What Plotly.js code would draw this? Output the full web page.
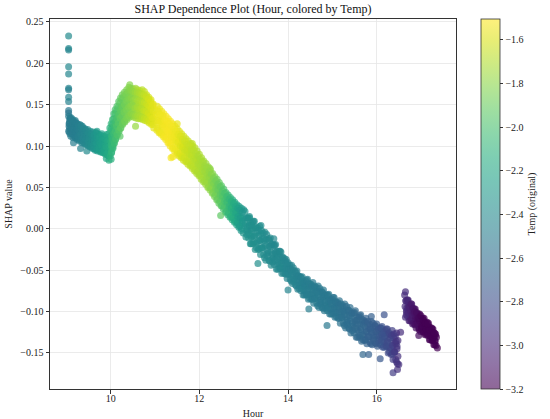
<!DOCTYPE html>
<html>
<head>
<meta charset="utf-8">
<script src="https://cdn.plot.ly/plotly-3.0.1.min.js"></script>
<style>html,body{margin:0;padding:0;background:#fff;}#chart{width:550px;height:419px;}</style>
</head>
<body>
<div id="chart"></div>
<script>
// ---- Data ----
// Early vertical column of high SHAP values at the first hour
const hourEarly = [9.05,9.05,9.05,9.05,9.05,9.05,9.05,9.05,9.05,9.05,9.05];
const shapEarly = [0.233,0.218,0.216,0.196,0.187,0.170,0.168,0.159,0.154,0.143,0.140];
const tempEarly = [-2.40,-2.42,-2.44,-2.41,-2.43,-2.45,-2.47,-2.44,-2.46,-2.52,-2.54];

// Morning band (9:00 - 10:00)
const hourMorning = [
9.05,9.06,9.07,9.05, 9.08,9.10,9.07,9.09, 9.10,9.12,9.11,9.13,9.09, 9.15,9.17,9.14,9.16,
9.19,9.21,9.18,9.20, 9.24,9.26,9.23,9.25, 9.29,9.31,9.28,9.30, 9.35,9.37,9.34,9.36,
9.41,9.43,9.40,9.42, 9.47,9.49,9.46,9.48, 9.53,9.55,9.52,9.54, 9.59,9.61,9.58,9.60,
9.65,9.67,9.64,9.66, 9.70,9.72,9.71,9.73,9.69, 9.77,9.79,9.76,9.78, 9.83,9.85,9.82,9.84,
9.88,9.90,9.87,9.89, 9.93,9.95,9.92,9.94, 9.96,9.98,9.97,9.99,9.95,
9.32,9.46,9.90,9.96,9.16];
const shapMorning = [
0.118,0.124,0.130,0.136, 0.115,0.121,0.127,0.133, 0.112,0.119,0.125,0.131,0.135, 0.110,0.116,0.123,0.129,
0.111,0.118,0.124,0.131, 0.108,0.115,0.121,0.127, 0.106,0.113,0.120,0.126, 0.104,0.111,0.118,0.124,
0.103,0.109,0.116,0.121, 0.101,0.107,0.113,0.120, 0.099,0.105,0.112,0.118, 0.097,0.104,0.110,0.117,
0.095,0.102,0.108,0.116, 0.094,0.100,0.107,0.114,0.118, 0.093,0.099,0.106,0.113, 0.092,0.098,0.105,0.112,
0.090,0.097,0.104,0.111, 0.089,0.096,0.103,0.110, 0.088,0.095,0.102,0.110,0.115,
0.097,0.094,0.085,0.083,0.104];
const tempMorning = [
-2.50,-2.50,-2.50,-2.50, -2.50,-2.50,-2.50,-2.50, -2.49,-2.49,-2.49,-2.49,-2.49, -2.49,-2.49,-2.49,-2.49,
-2.48,-2.48,-2.48,-2.48, -2.47,-2.47,-2.47,-2.47, -2.46,-2.46,-2.46,-2.46, -2.44,-2.44,-2.44,-2.44,
-2.42,-2.42,-2.42,-2.42, -2.40,-2.40,-2.40,-2.40, -2.37,-2.37,-2.37,-2.37, -2.34,-2.34,-2.34,-2.34,
-2.31,-2.31,-2.31,-2.31, -2.28,-2.28,-2.28,-2.28,-2.28, -2.26,-2.26,-2.26,-2.26, -2.23,-2.23,-2.23,-2.23,
-2.20,-2.20,-2.20,-2.20, -2.18,-2.18,-2.18,-2.18, -2.15,-2.15,-2.15,-2.15,-2.15,
-2.45,-2.40,-2.19,-2.16,-2.49];
const hourMorningFill = [
9.07,9.06,9.08,9.07, 9.13,9.12,9.14,9.13, 9.18,9.17,9.19,9.18, 9.22,9.21,9.23,9.22,
9.27,9.26,9.28,9.27, 9.33,9.32,9.34,9.33, 9.38,9.37,9.39,9.38, 9.44,9.43,9.45,9.44,
9.50,9.49,9.51,9.50, 9.56,9.55,9.57,9.56, 9.62,9.61,9.63,9.62, 9.68,9.67,9.69,9.68,
9.74,9.73,9.75,9.74, 9.80,9.79,9.81,9.80, 9.86,9.85,9.87,9.86, 9.91,9.90,9.92,9.91,
9.95,9.94,9.96,9.95];
const shapMorningFill = [
0.121,0.127,0.133,0.117, 0.115,0.122,0.128,0.133, 0.113,0.121,0.127,0.130, 0.110,0.117,0.122,0.128,
0.109,0.112,0.119,0.125, 0.107,0.114,0.121,0.125, 0.105,0.110,0.116,0.122, 0.102,0.108,0.114,0.119,
0.101,0.106,0.110,0.116, 0.099,0.103,0.109,0.115, 0.097,0.101,0.107,0.113, 0.096,0.103,0.110,0.116,
0.095,0.098,0.104,0.111, 0.093,0.101,0.108,0.115, 0.092,0.095,0.102,0.109, 0.091,0.099,0.106,0.114,
0.089,0.093,0.100,0.107];
const tempMorningFill = [
-2.50,-2.50,-2.50,-2.50, -2.49,-2.49,-2.49,-2.49, -2.48,-2.48,-2.48,-2.48, -2.48,-2.48,-2.48,-2.48,
-2.47,-2.47,-2.47,-2.47, -2.45,-2.45,-2.45,-2.45, -2.43,-2.43,-2.43,-2.43, -2.41,-2.41,-2.41,-2.41,
-2.39,-2.39,-2.39,-2.39, -2.36,-2.36,-2.36,-2.36, -2.33,-2.33,-2.33,-2.33, -2.30,-2.30,-2.30,-2.30,
-2.27,-2.27,-2.27,-2.27, -2.25,-2.25,-2.25,-2.25, -2.22,-2.22,-2.22,-2.22, -2.19,-2.19,-2.19,-2.19,
-2.17,-2.17,-2.17,-2.17];

// Rise and peak (10:00 - 11:00)
const hourRise = [
9.99,10.01,10.00,10.02,9.98, 10.02,10.04,10.03,10.05,10.01, 10.05,10.07,10.06,10.08,10.04,
10.08,10.10,10.09,10.11,10.07, 10.11,10.13,10.12,10.14,10.10, 10.15,10.17,10.16,10.18,10.14,
10.19,10.21,10.20,10.22,10.18, 10.23,10.25,10.24,10.26,10.22, 10.27,10.29,10.28,10.30,10.26,
10.32,10.34,10.33,10.35,10.31, 10.37,10.39,10.38,10.40,10.36, 10.42,10.44,10.43,10.45,10.41,
10.47,10.49,10.48,10.50,10.46, 10.52,10.54,10.53,10.55,10.51, 10.57,10.59,10.58,10.60,10.56,
10.62,10.64,10.63,10.65,10.61, 10.67,10.69,10.68,10.70,10.66, 10.72,10.74,10.73,10.75,10.71,
10.77,10.79,10.78,10.80,10.76, 10.82,10.84,10.83,10.85,10.81, 10.87,10.89,10.88,10.90,10.86,
10.92,10.94,10.93,10.95,10.91, 10.97,10.99,10.98,11.00,10.96,
10.56,10.21,10.01,10.43];
const shapRise = [
0.088,0.097,0.106,0.114,0.122, 0.092,0.101,0.110,0.119,0.127, 0.097,0.106,0.115,0.124,0.132,
0.104,0.112,0.121,0.130,0.139, 0.108,0.117,0.126,0.135,0.144, 0.113,0.121,0.130,0.139,0.148,
0.118,0.127,0.136,0.146,0.154, 0.122,0.131,0.140,0.149,0.158, 0.126,0.134,0.143,0.153,0.162,
0.129,0.138,0.147,0.157,0.165, 0.132,0.141,0.150,0.160,0.168, 0.135,0.143,0.152,0.162,0.171,
0.136,0.144,0.153,0.162,0.170, 0.135,0.143,0.152,0.161,0.169, 0.134,0.142,0.151,0.160,0.170,
0.133,0.142,0.150,0.159,0.168, 0.133,0.141,0.150,0.158,0.167, 0.132,0.140,0.149,0.158,0.168,
0.131,0.139,0.148,0.157,0.166, 0.130,0.138,0.146,0.154,0.162, 0.128,0.136,0.143,0.151,0.159,
0.126,0.133,0.140,0.148,0.156, 0.122,0.130,0.137,0.144,0.151,
0.124,0.112,0.084,0.174];
const tempRise = [
-2.12,-2.12,-2.12,-2.12,-2.12, -2.09,-2.09,-2.09,-2.09,-2.09, -2.06,-2.06,-2.06,-2.06,-2.06,
-2.03,-2.03,-2.03,-2.03,-2.03, -2.00,-2.00,-2.00,-2.00,-2.00, -1.97,-1.97,-1.97,-1.97,-1.97,
-1.94,-1.94,-1.94,-1.94,-1.94, -1.91,-1.91,-1.91,-1.91,-1.91, -1.88,-1.88,-1.88,-1.88,-1.88,
-1.86,-1.86,-1.86,-1.86,-1.86, -1.84,-1.84,-1.84,-1.84,-1.84, -1.82,-1.82,-1.82,-1.82,-1.82,
-1.80,-1.80,-1.80,-1.80,-1.80, -1.78,-1.78,-1.78,-1.78,-1.78, -1.75,-1.75,-1.75,-1.75,-1.75,
-1.72,-1.72,-1.72,-1.72,-1.72, -1.70,-1.70,-1.70,-1.70,-1.70, -1.68,-1.68,-1.68,-1.68,-1.68,
-1.65,-1.65,-1.65,-1.65,-1.65, -1.63,-1.63,-1.63,-1.63,-1.63, -1.61,-1.61,-1.61,-1.61,-1.61,
-1.59,-1.59,-1.59,-1.59,-1.59, -1.57,-1.57,-1.57,-1.57,-1.57,
-1.77,-1.94,-2.11,-1.82];
const hourRiseFill = [
10.02,10.01,10.02,10.01, 10.05,10.04,10.05,10.04, 10.08,10.07,10.08,10.07, 10.11,10.10,10.11,10.10,
10.14,10.13,10.14,10.13, 10.18,10.17,10.18,10.17, 10.22,10.21,10.22,10.21, 10.26,10.25,10.26,10.25,
10.31,10.30,10.31,10.30, 10.36,10.35,10.36,10.35, 10.41,10.40,10.41,10.40, 10.46,10.45,10.46,10.45,
10.51,10.50,10.51,10.50, 10.56,10.55,10.56,10.55, 10.61,10.60,10.61,10.60, 10.66,10.65,10.66,10.65,
10.71,10.70,10.71,10.70, 10.76,10.75,10.76,10.75, 10.81,10.80,10.81,10.80, 10.86,10.85,10.86,10.85,
10.91,10.90,10.91,10.90, 10.96,10.95,10.96,10.95];
const shapRiseFill = [
0.093,0.101,0.112,0.120, 0.099,0.107,0.118,0.126, 0.103,0.115,0.125,0.133, 0.109,0.118,0.128,0.139,
0.114,0.124,0.133,0.142, 0.119,0.128,0.138,0.147, 0.122,0.134,0.143,0.152, 0.127,0.136,0.147,0.157,
0.130,0.141,0.150,0.160, 0.134,0.144,0.155,0.163, 0.137,0.147,0.157,0.166, 0.139,0.148,0.158,0.167,
0.138,0.149,0.156,0.166, 0.137,0.146,0.157,0.165, 0.137,0.147,0.155,0.165, 0.136,0.145,0.155,0.164,
0.135,0.146,0.153,0.163, 0.134,0.143,0.153,0.162, 0.133,0.142,0.151,0.160, 0.131,0.140,0.149,0.157,
0.129,0.137,0.146,0.154, 0.126,0.134,0.142,0.150];
const tempRiseFill = [
-2.10,-2.10,-2.10,-2.10, -2.07,-2.07,-2.07,-2.07, -2.04,-2.04,-2.04,-2.04, -2.01,-2.01,-2.01,-2.01,
-1.98,-1.98,-1.98,-1.98, -1.95,-1.95,-1.95,-1.95, -1.92,-1.92,-1.92,-1.92, -1.90,-1.90,-1.90,-1.90,
-1.87,-1.87,-1.87,-1.87, -1.85,-1.85,-1.85,-1.85, -1.83,-1.83,-1.83,-1.83, -1.81,-1.81,-1.81,-1.81,
-1.79,-1.79,-1.79,-1.79, -1.76,-1.76,-1.76,-1.76, -1.73,-1.73,-1.73,-1.73, -1.71,-1.71,-1.71,-1.71,
-1.69,-1.69,-1.69,-1.69, -1.66,-1.66,-1.66,-1.66, -1.64,-1.64,-1.64,-1.64, -1.62,-1.62,-1.62,-1.62,
-1.60,-1.60,-1.60,-1.60, -1.58,-1.58,-1.58,-1.58];

// Midday decline (11:00 - 13:00)
const hourDecline = [
11.04,11.06,11.03,11.05, 11.09,11.11,11.08,11.10, 11.14,11.16,11.13,11.15, 11.19,11.21,11.18,11.20,
11.24,11.26,11.23,11.25, 11.29,11.31,11.28,11.30, 11.34,11.36,11.33,11.35, 11.39,11.41,11.38,11.40,
11.44,11.46,11.43,11.45, 11.49,11.51,11.48,11.50, 11.54,11.56,11.53,11.55, 11.59,11.61,11.58,11.60,
11.64,11.66,11.63,11.65, 11.69,11.71,11.68,11.70, 11.74,11.76,11.73,11.75, 11.79,11.81,11.78,11.80,
11.84,11.86,11.83,11.85, 11.89,11.91,11.88,11.90, 11.94,11.96,11.93,11.95, 11.99,12.01,11.98,12.00,
12.04,12.06,12.03,12.05, 12.09,12.11,12.08,12.10, 12.14,12.16,12.13,12.15, 12.19,12.21,12.18,12.20,
12.24,12.26,12.23,12.25, 12.29,12.31,12.28,12.30, 12.34,12.36,12.33,12.35, 12.39,12.41,12.38,12.40,
12.44,12.46,12.43,12.45, 12.49,12.51,12.48,12.50, 12.54,12.56,12.53,12.55, 12.59,12.61,12.58,12.60,
12.64,12.66,12.63,12.65, 12.69,12.71,12.68,12.70, 12.74,12.76,12.73,12.75, 12.79,12.81,12.78,12.80,
12.84,12.86,12.83,12.85, 12.89,12.91,12.88,12.90, 12.94,12.96,12.93,12.95, 12.99,13.01,12.98,13.00,
11.36,11.40,11.50,11.84,12.24,12.48];
const shapDecline = [
0.119,0.128,0.138,0.148, 0.116,0.125,0.135,0.145, 0.114,0.123,0.132,0.142, 0.111,0.120,0.129,0.139,
0.108,0.117,0.126,0.136, 0.104,0.114,0.123,0.133, 0.100,0.110,0.120,0.130, 0.097,0.107,0.117,0.127,
0.094,0.104,0.114,0.124, 0.090,0.100,0.111,0.121, 0.088,0.098,0.108,0.118, 0.086,0.095,0.105,0.115,
0.083,0.092,0.102,0.112, 0.081,0.090,0.099,0.109, 0.078,0.087,0.096,0.106, 0.076,0.085,0.094,0.103,
0.073,0.082,0.091,0.100, 0.070,0.079,0.088,0.098, 0.067,0.076,0.085,0.094, 0.064,0.073,0.082,0.090,
0.060,0.069,0.078,0.086, 0.057,0.065,0.074,0.082, 0.054,0.062,0.070,0.079, 0.050,0.058,0.067,0.075,
0.047,0.055,0.063,0.071, 0.043,0.051,0.059,0.067, 0.039,0.047,0.055,0.063, 0.035,0.043,0.052,0.060,
0.031,0.040,0.048,0.056, 0.028,0.036,0.044,0.052, 0.024,0.032,0.040,0.048, 0.020,0.028,0.036,0.044,
0.017,0.025,0.033,0.041, 0.014,0.022,0.030,0.038, 0.011,0.019,0.027,0.035, 0.008,0.016,0.024,0.032,
0.005,0.013,0.021,0.029, 0.002,0.010,0.018,0.027, -0.002,0.007,0.015,0.025, -0.005,0.004,0.013,0.023,
0.086,0.087,0.127,0.103,0.073,0.016];
const tempDecline = [
-1.56,-1.56,-1.56,-1.56, -1.55,-1.55,-1.55,-1.55, -1.54,-1.54,-1.54,-1.54, -1.53,-1.53,-1.53,-1.53,
-1.52,-1.52,-1.52,-1.52, -1.52,-1.52,-1.52,-1.52, -1.52,-1.52,-1.52,-1.52, -1.53,-1.53,-1.53,-1.53,
-1.54,-1.54,-1.54,-1.54, -1.56,-1.56,-1.56,-1.56, -1.58,-1.58,-1.58,-1.58, -1.60,-1.60,-1.60,-1.60,
-1.62,-1.62,-1.62,-1.62, -1.63,-1.63,-1.63,-1.63, -1.64,-1.64,-1.64,-1.64, -1.66,-1.66,-1.66,-1.66,
-1.67,-1.67,-1.67,-1.67, -1.68,-1.68,-1.68,-1.68, -1.70,-1.70,-1.70,-1.70, -1.71,-1.71,-1.71,-1.71,
-1.72,-1.72,-1.72,-1.72, -1.74,-1.74,-1.74,-1.74, -1.75,-1.75,-1.75,-1.75, -1.77,-1.77,-1.77,-1.77,
-1.79,-1.79,-1.79,-1.79, -1.82,-1.82,-1.82,-1.82, -1.85,-1.85,-1.85,-1.85, -1.88,-1.88,-1.88,-1.88,
-1.91,-1.91,-1.91,-1.91, -1.94,-1.94,-1.94,-1.94, -1.98,-1.98,-1.98,-1.98, -2.02,-2.02,-2.02,-2.02,
-2.06,-2.06,-2.06,-2.06, -2.10,-2.10,-2.10,-2.10, -2.14,-2.14,-2.14,-2.14, -2.18,-2.18,-2.18,-2.18,
-2.22,-2.22,-2.22,-2.22, -2.26,-2.26,-2.26,-2.26, -2.29,-2.29,-2.29,-2.29, -2.32,-2.32,-2.32,-2.32,
-1.52,-1.53,-1.56,-1.67,-1.79,-1.93];
const hourDeclineFill = [
11.06,11.07,11.07, 11.11,11.12,11.12, 11.16,11.17,11.17, 11.21,11.22,11.22, 11.26,11.27,11.27,
11.31,11.32,11.32, 11.36,11.37,11.37, 11.41,11.42,11.42, 11.46,11.47,11.47, 11.51,11.52,11.52,
11.56,11.57,11.57, 11.61,11.62,11.62, 11.66,11.67,11.67, 11.71,11.72,11.72, 11.76,11.77,11.77,
11.81,11.82,11.82, 11.86,11.87,11.87, 11.91,11.92,11.92, 11.96,11.97,11.97, 12.01,12.02,12.02,
12.06,12.07,12.07, 12.11,12.12,12.12, 12.16,12.17,12.17, 12.21,12.22,12.22, 12.26,12.27,12.27,
12.31,12.32,12.32, 12.36,12.37,12.37, 12.41,12.42,12.42, 12.46,12.47,12.47, 12.51,12.52,12.52,
12.56,12.57,12.57, 12.61,12.62,12.62, 12.66,12.67,12.67, 12.71,12.72,12.72, 12.76,12.77,12.77,
12.81,12.82,12.82, 12.86,12.87,12.87, 12.91,12.92,12.92, 12.96,12.97,12.97];
const shapDeclineFill = [
0.121,0.131,0.142, 0.117,0.130,0.138, 0.116,0.126,0.137, 0.112,0.124,0.131, 0.110,0.119,0.130,
0.105,0.118,0.127, 0.103,0.112,0.124, 0.098,0.111,0.120, 0.096,0.106,0.118, 0.092,0.105,0.114,
0.091,0.100,0.112, 0.087,0.099,0.108, 0.086,0.095,0.106, 0.082,0.094,0.102, 0.081,0.090,0.100,
0.077,0.089,0.096, 0.075,0.084,0.095, 0.071,0.083,0.091, 0.069,0.078,0.088, 0.065,0.076,0.084,
0.062,0.071,0.081, 0.058,0.069,0.076, 0.056,0.064,0.074, 0.051,0.062,0.069, 0.049,0.057,0.066,
0.044,0.055,0.061, 0.041,0.049,0.058, 0.036,0.047,0.054, 0.033,0.041,0.051, 0.028,0.039,0.046,
0.026,0.034,0.043, 0.021,0.032,0.039, 0.019,0.027,0.036, 0.015,0.025,0.033, 0.013,0.021,0.031,
0.009,0.019,0.027, 0.007,0.015,0.025, 0.003,0.013,0.022, 0.000,0.009,0.020];
const tempDeclineFill = [
-1.56,-1.56,-1.56, -1.55,-1.55,-1.55, -1.54,-1.54,-1.54, -1.53,-1.53,-1.53, -1.52,-1.52,-1.52,
-1.52,-1.52,-1.52, -1.53,-1.53,-1.53, -1.54,-1.54,-1.54, -1.55,-1.55,-1.55, -1.57,-1.57,-1.57,
-1.59,-1.59,-1.59, -1.61,-1.61,-1.61, -1.63,-1.63,-1.63, -1.64,-1.64,-1.64, -1.65,-1.65,-1.65,
-1.67,-1.67,-1.67, -1.68,-1.68,-1.68, -1.69,-1.69,-1.69, -1.71,-1.71,-1.71, -1.72,-1.72,-1.72,
-1.73,-1.73,-1.73, -1.75,-1.75,-1.75, -1.76,-1.76,-1.76, -1.78,-1.78,-1.78, -1.81,-1.81,-1.81,
-1.84,-1.84,-1.84, -1.87,-1.87,-1.87, -1.90,-1.90,-1.90, -1.93,-1.93,-1.93, -1.96,-1.96,-1.96,
-2.00,-2.00,-2.00, -2.04,-2.04,-2.04, -2.08,-2.08,-2.08, -2.12,-2.12,-2.12, -2.16,-2.16,-2.16,
-2.20,-2.20,-2.20, -2.24,-2.24,-2.24, -2.28,-2.28,-2.28, -2.31,-2.31,-2.31];

// Afternoon band (13:00 - 16:30)
const hourAfternoon = [
13.05,13.07,13.04,13.06,13.03, 13.11,13.09,13.12,13.10, 13.15,13.17,13.14,13.16,13.13, 13.21,13.19,13.22,13.20,
13.26,13.28,13.25,13.27,13.24, 13.33,13.31,13.34,13.32, 13.38,13.40,13.37,13.39,13.36, 13.45,13.43,13.46,13.44,
13.50,13.52,13.49,13.51,13.48, 13.57,13.55,13.58,13.56, 13.62,13.64,13.61,13.63,13.60, 13.69,13.67,13.70,13.68,
13.74,13.76,13.73,13.75,13.72, 13.81,13.79,13.82,13.80, 13.86,13.88,13.85,13.87,13.84, 13.93,13.91,13.94,13.92,
13.98,14.00,13.97,13.99,13.96, 14.05,14.03,14.06,14.04, 14.10,14.12,14.09,14.11,14.08, 14.17,14.15,14.18,14.16,
14.22,14.24,14.21,14.23,14.20, 14.29,14.27,14.30,14.28, 14.34,14.36,14.33,14.35,14.32, 14.41,14.39,14.42,14.40,
14.46,14.48,14.45,14.47,14.44, 14.53,14.51,14.54,14.52, 14.58,14.60,14.57,14.59,14.56, 14.65,14.63,14.66,14.64,
14.70,14.72,14.69,14.71,14.68, 14.77,14.75,14.78,14.76, 14.82,14.84,14.81,14.83,14.80, 14.89,14.87,14.90,14.88,
14.94,14.96,14.93,14.95,14.92, 15.01,14.99,15.02,15.00, 15.06,15.08,15.05,15.07,15.04, 15.13,15.11,15.14,15.12,
15.18,15.20,15.17,15.19,15.16, 15.25,15.23,15.26,15.24, 15.30,15.32,15.29,15.31,15.28, 15.37,15.35,15.38,15.36,
15.42,15.44,15.41,15.43,15.40, 15.49,15.47,15.50,15.48, 15.54,15.56,15.53,15.55,15.52, 15.61,15.59,15.62,15.60,
15.66,15.68,15.65,15.67,15.64, 15.73,15.71,15.74,15.72, 15.78,15.80,15.77,15.79,15.76, 15.85,15.83,15.86,15.84,
15.90,15.92,15.89,15.91,15.88, 15.97,15.95,15.98,15.96, 16.02,16.04,16.01,16.03,16.00, 16.09,16.07,16.10,16.08,
16.14,16.16,16.13,16.15,16.12, 16.21,16.19,16.22,16.20, 16.26,16.28,16.25,16.27,16.24, 16.33,16.31,16.34,16.32,
16.37,16.39,16.36,16.38,16.35, 16.43,16.41,16.44,16.42, 16.47,16.48,16.46,16.48,16.45,
13.32,13.68,13.39,14.00,14.47,14.88,15.69,15.82,15.88,16.17,16.08,16.37,16.47,16.54,16.50];
const shapAfternoon = [
-0.010,-0.002,0.006,0.013,0.021, -0.011,-0.003,0.005,0.013, -0.018,-0.010,-0.002,0.007,0.015, -0.018,-0.009,0.000,0.008,
-0.025,-0.017,-0.008,0.001,0.009, -0.025,-0.016,-0.008,0.001, -0.031,-0.023,-0.014,-0.006,0.003, -0.031,-0.023,-0.014,-0.005,
-0.038,-0.030,-0.021,-0.013,-0.004, -0.038,-0.029,-0.021,-0.012, -0.044,-0.036,-0.028,-0.019,-0.011, -0.043,-0.035,-0.027,-0.020,
-0.049,-0.042,-0.034,-0.027,-0.019, -0.048,-0.041,-0.034,-0.027, -0.054,-0.048,-0.041,-0.035,-0.028, -0.054,-0.048,-0.042,-0.036,
-0.060,-0.054,-0.049,-0.043,-0.037, -0.061,-0.055,-0.050,-0.044, -0.066,-0.061,-0.055,-0.050,-0.044, -0.068,-0.062,-0.057,-0.051,
-0.073,-0.068,-0.062,-0.057,-0.051, -0.075,-0.069,-0.064,-0.058, -0.080,-0.075,-0.069,-0.064,-0.058, -0.080,-0.074,-0.069,-0.063,
-0.085,-0.079,-0.073,-0.067,-0.061, -0.085,-0.079,-0.073,-0.067, -0.090,-0.084,-0.078,-0.071,-0.065, -0.090,-0.084,-0.077,-0.071,
-0.095,-0.089,-0.082,-0.076,-0.069, -0.095,-0.088,-0.082,-0.076, -0.099,-0.093,-0.087,-0.080,-0.074, -0.099,-0.092,-0.086,-0.080,
-0.103,-0.097,-0.091,-0.085,-0.079, -0.103,-0.097,-0.091,-0.085, -0.107,-0.101,-0.095,-0.089,-0.083, -0.108,-0.101,-0.095,-0.089,
-0.114,-0.107,-0.101,-0.094,-0.087, -0.114,-0.107,-0.100,-0.093, -0.120,-0.113,-0.106,-0.098,-0.091, -0.120,-0.113,-0.105,-0.098,
-0.126,-0.118,-0.111,-0.103,-0.095, -0.126,-0.118,-0.110,-0.102, -0.131,-0.123,-0.115,-0.107,-0.099, -0.131,-0.123,-0.115,-0.107,
-0.136,-0.128,-0.120,-0.112,-0.104, -0.135,-0.127,-0.119,-0.111, -0.139,-0.131,-0.124,-0.116,-0.108, -0.137,-0.130,-0.122,-0.115,
-0.140,-0.133,-0.126,-0.119,-0.112, -0.138,-0.131,-0.124,-0.117, -0.142,-0.135,-0.129,-0.122,-0.115, -0.140,-0.133,-0.127,-0.120,
-0.143,-0.137,-0.131,-0.124,-0.118, -0.142,-0.136,-0.129,-0.123, -0.150,-0.143,-0.136,-0.128,-0.121, -0.152,-0.144,-0.136,-0.128,
-0.158,-0.149,-0.141,-0.132,-0.123, -0.158,-0.149,-0.139,-0.130, -0.163,-0.154,-0.145,-0.135,-0.126,
-0.042,-0.012,0.004,-0.074,-0.097,-0.117,-0.152,-0.152,-0.106,-0.104,-0.157,-0.174,-0.170,-0.125,-0.164];
const tempAfternoon = [
-2.33,-2.33,-2.33,-2.33,-2.33, -2.34,-2.34,-2.34,-2.34, -2.35,-2.35,-2.35,-2.35,-2.35, -2.36,-2.36,-2.36,-2.36,
-2.36,-2.36,-2.36,-2.36,-2.36, -2.37,-2.37,-2.37,-2.37, -2.38,-2.38,-2.38,-2.38,-2.38, -2.38,-2.38,-2.38,-2.38,
-2.39,-2.39,-2.39,-2.39,-2.39, -2.40,-2.40,-2.40,-2.40, -2.40,-2.40,-2.40,-2.40,-2.40, -2.41,-2.41,-2.41,-2.41,
-2.41,-2.41,-2.41,-2.41,-2.41, -2.42,-2.42,-2.42,-2.42, -2.42,-2.42,-2.42,-2.42,-2.42, -2.43,-2.43,-2.43,-2.43,
-2.44,-2.44,-2.44,-2.44,-2.44, -2.44,-2.44,-2.44,-2.44, -2.45,-2.45,-2.45,-2.45,-2.45, -2.45,-2.45,-2.45,-2.45,
-2.46,-2.46,-2.46,-2.46,-2.46, -2.47,-2.47,-2.47,-2.47, -2.47,-2.47,-2.47,-2.47,-2.47, -2.48,-2.48,-2.48,-2.48,
-2.49,-2.49,-2.49,-2.49,-2.49, -2.49,-2.49,-2.49,-2.49, -2.50,-2.50,-2.50,-2.50,-2.50, -2.50,-2.50,-2.50,-2.50,
-2.51,-2.51,-2.51,-2.51,-2.51, -2.52,-2.52,-2.52,-2.52, -2.52,-2.52,-2.52,-2.52,-2.52, -2.53,-2.53,-2.53,-2.53,
-2.53,-2.53,-2.53,-2.53,-2.53, -2.54,-2.54,-2.54,-2.54, -2.55,-2.55,-2.55,-2.55,-2.55, -2.55,-2.55,-2.55,-2.55,
-2.56,-2.56,-2.56,-2.56,-2.56, -2.57,-2.57,-2.57,-2.57, -2.58,-2.58,-2.58,-2.58,-2.58, -2.59,-2.59,-2.59,-2.59,
-2.60,-2.60,-2.60,-2.60,-2.60, -2.61,-2.61,-2.61,-2.61, -2.62,-2.62,-2.62,-2.62,-2.62, -2.63,-2.63,-2.63,-2.63,
-2.64,-2.64,-2.64,-2.64,-2.64, -2.65,-2.65,-2.65,-2.65, -2.67,-2.67,-2.67,-2.67,-2.67, -2.68,-2.68,-2.68,-2.68,
-2.69,-2.69,-2.69,-2.69,-2.69, -2.70,-2.70,-2.70,-2.70, -2.72,-2.72,-2.72,-2.72,-2.72, -2.74,-2.74,-2.74,-2.74,
-2.77,-2.77,-2.77,-2.77,-2.77, -2.79,-2.79,-2.79,-2.79, -2.82,-2.82,-2.82,-2.82,-2.82, -2.85,-2.85,-2.85,-2.85,
-2.89,-2.89,-2.89,-2.89,-2.89, -2.93,-2.93,-2.93,-2.93, -2.97,-2.97,-2.97,-2.97,-2.97,
-2.37,-2.41,-2.38,-2.44,-2.49,-2.53,-2.65,-2.68,-2.69,-2.78,-2.74,-2.90,-2.96,-2.98,-2.97];
const hourAfternoonFill = [
13.07,13.08,13.08, 13.12,13.13,13.13, 13.17,13.18,13.18, 13.23,13.24,13.22, 13.29,13.30,13.28,
13.35,13.36,13.34, 13.41,13.42,13.40, 13.47,13.48,13.46, 13.53,13.54,13.52, 13.59,13.60,13.58,
13.65,13.66,13.64, 13.71,13.72,13.70, 13.77,13.78,13.76, 13.83,13.84,13.82, 13.89,13.90,13.88,
13.95,13.96,13.94, 14.01,14.02,14.00, 14.07,14.08,14.06, 14.13,14.14,14.12, 14.19,14.20,14.18,
14.25,14.26,14.24, 14.31,14.32,14.30, 14.37,14.38,14.36, 14.43,14.44,14.42, 14.49,14.50,14.48,
14.55,14.56,14.54, 14.61,14.62,14.60, 14.67,14.68,14.66, 14.73,14.74,14.72, 14.79,14.80,14.78,
14.85,14.86,14.84, 14.91,14.92,14.90, 14.97,14.98,14.96, 15.03,15.04,15.02, 15.09,15.10,15.08,
15.15,15.16,15.14, 15.21,15.22,15.20, 15.27,15.28,15.26, 15.33,15.34,15.32, 15.39,15.40,15.38,
15.45,15.46,15.44, 15.51,15.52,15.50, 15.57,15.58,15.56, 15.63,15.64,15.62, 15.69,15.70,15.68,
15.75,15.76,15.74, 15.81,15.82,15.80, 15.87,15.88,15.86, 15.93,15.94,15.92, 15.99,16.00,15.98,
16.05,16.06,16.04, 16.11,16.12,16.10, 16.17,16.18,16.16, 16.23,16.24,16.22, 16.29,16.30,16.28,
16.35,16.36,16.34, 16.40,16.41,16.39, 16.45,16.46,16.44];
const shapAfternoonFill = [
-0.007,0.002,0.013, -0.006,0.004,0.013, -0.018,-0.001,0.004, -0.016,-0.009,0.009, -0.023,-0.004,0.002,
-0.024,-0.014,-0.002, -0.023,-0.012,-0.002, -0.035,-0.018,-0.012, -0.033,-0.026,-0.007, -0.039,-0.021,-0.014,
-0.040,-0.031,-0.019, -0.038,-0.029,-0.020, -0.049,-0.034,-0.030, -0.047,-0.042,-0.027, -0.053,-0.039,-0.034,
-0.055,-0.047,-0.039, -0.055,-0.048,-0.041, -0.063,-0.052,-0.049, -0.064,-0.059,-0.047, -0.069,-0.057,-0.053,
-0.072,-0.065,-0.057, -0.072,-0.065,-0.059, -0.080,-0.069,-0.066, -0.079,-0.074,-0.062, -0.084,-0.070,-0.066,
-0.085,-0.078,-0.069, -0.084,-0.076,-0.069, -0.093,-0.080,-0.076, -0.091,-0.086,-0.072, -0.096,-0.082,-0.077,
-0.096,-0.089,-0.080, -0.095,-0.087,-0.080, -0.103,-0.091,-0.087, -0.101,-0.096,-0.083, -0.106,-0.093,-0.088,
-0.108,-0.100,-0.091, -0.107,-0.099,-0.091, -0.117,-0.103,-0.099, -0.116,-0.110,-0.094, -0.121,-0.105,-0.099,
-0.123,-0.113,-0.102, -0.120,-0.111,-0.101, -0.131,-0.115,-0.110, -0.129,-0.122,-0.105, -0.134,-0.116,-0.110,
-0.134,-0.124,-0.113, -0.130,-0.121,-0.112, -0.139,-0.124,-0.120, -0.135,-0.129,-0.114, -0.139,-0.124,-0.118,
-0.138,-0.130,-0.121, -0.135,-0.128,-0.120, -0.143,-0.130,-0.126, -0.142,-0.137,-0.121, -0.149,-0.132,-0.126,
-0.151,-0.141,-0.129, -0.149,-0.138,-0.127, -0.161,-0.142,-0.136];
const tempAfternoonFill = [
-2.34,-2.34,-2.34, -2.35,-2.35,-2.35, -2.36,-2.36,-2.36, -2.36,-2.36,-2.36, -2.37,-2.37,-2.37,
-2.38,-2.38,-2.38, -2.38,-2.38,-2.38, -2.39,-2.39,-2.39, -2.40,-2.40,-2.40, -2.40,-2.40,-2.40,
-2.41,-2.41,-2.41, -2.41,-2.41,-2.41, -2.42,-2.42,-2.42, -2.42,-2.42,-2.42, -2.43,-2.43,-2.43,
-2.44,-2.44,-2.44, -2.44,-2.44,-2.44, -2.45,-2.45,-2.45, -2.45,-2.45,-2.45, -2.46,-2.46,-2.46,
-2.47,-2.47,-2.47, -2.47,-2.47,-2.47, -2.48,-2.48,-2.48, -2.49,-2.49,-2.49, -2.49,-2.49,-2.49,
-2.50,-2.50,-2.50, -2.50,-2.50,-2.50, -2.51,-2.51,-2.51, -2.52,-2.52,-2.52, -2.52,-2.52,-2.52,
-2.53,-2.53,-2.53, -2.53,-2.53,-2.53, -2.54,-2.54,-2.54, -2.55,-2.55,-2.55, -2.55,-2.55,-2.55,
-2.56,-2.56,-2.56, -2.57,-2.57,-2.57, -2.58,-2.58,-2.58, -2.59,-2.59,-2.59, -2.60,-2.60,-2.60,
-2.61,-2.61,-2.61, -2.62,-2.62,-2.62, -2.63,-2.63,-2.63, -2.64,-2.64,-2.64, -2.65,-2.65,-2.65,
-2.66,-2.66,-2.66, -2.68,-2.68,-2.68, -2.69,-2.69,-2.69, -2.70,-2.70,-2.70, -2.71,-2.71,-2.71,
-2.73,-2.73,-2.73, -2.76,-2.76,-2.76, -2.78,-2.78,-2.78, -2.81,-2.81,-2.81, -2.84,-2.84,-2.84,
-2.87,-2.87,-2.87, -2.91,-2.91,-2.91, -2.95,-2.95,-2.95];

// Evening cluster (16:40 - 17:20), coldest temperatures
const hourEvening = [
16.65,16.67,16.64,16.66,16.63, 16.70,16.68,16.71,16.69, 16.73,16.75,16.72,16.74,16.71, 16.78,16.76,16.79,16.77,
16.81,16.83,16.80,16.82,16.79, 16.86,16.84,16.87,16.85, 16.89,16.91,16.88,16.90,16.87, 16.95,16.93,16.96,16.94,
16.99,17.01,16.98,17.00,16.97, 17.05,17.03,17.06,17.04, 17.09,17.11,17.08,17.10,17.07, 17.15,17.13,17.16,17.14,
17.19,17.21,17.18,17.20,17.17, 17.25,17.23,17.26,17.24, 17.29,17.31,17.28,17.30,17.27, 17.34,17.32,17.35,17.33,
16.65,16.95,17.37];
const shapEvening = [
-0.107,-0.100,-0.094,-0.087,-0.080, -0.106,-0.099,-0.092,-0.086, -0.111,-0.105,-0.099,-0.092,-0.086, -0.111,-0.105,-0.098,-0.092,
-0.115,-0.109,-0.103,-0.097,-0.091, -0.116,-0.110,-0.103,-0.097, -0.120,-0.114,-0.109,-0.103,-0.097, -0.120,-0.114,-0.109,-0.103,
-0.124,-0.119,-0.114,-0.108,-0.103, -0.124,-0.119,-0.113,-0.108, -0.128,-0.123,-0.118,-0.113,-0.108, -0.129,-0.124,-0.118,-0.113,
-0.134,-0.129,-0.124,-0.119,-0.114, -0.135,-0.130,-0.125,-0.120, -0.140,-0.135,-0.131,-0.126,-0.121, -0.141,-0.136,-0.131,-0.127,
-0.076,-0.129,-0.144];
const tempEvening = [
-2.98,-2.98,-2.98,-2.98,-2.98, -3.00,-3.00,-3.00,-3.00, -3.03,-3.03,-3.03,-3.03,-3.03, -3.06,-3.06,-3.06,-3.06,
-3.09,-3.09,-3.09,-3.09,-3.09, -3.12,-3.12,-3.12,-3.12, -3.14,-3.14,-3.14,-3.14,-3.14, -3.16,-3.16,-3.16,-3.16,
-3.18,-3.18,-3.18,-3.18,-3.18, -3.19,-3.19,-3.19,-3.19, -3.20,-3.20,-3.20,-3.20,-3.20, -3.20,-3.20,-3.20,-3.20,
-3.20,-3.20,-3.20,-3.20,-3.20, -3.20,-3.20,-3.20,-3.20, -3.20,-3.20,-3.20,-3.20,-3.20, -3.20,-3.20,-3.20,-3.20,
-2.98,-3.16,-3.20];
const hourEveningFill = [
16.67,16.68,16.66, 16.71,16.72,16.70, 16.75,16.76,16.74, 16.79,16.80,16.78, 16.83,16.84,16.82,
16.87,16.88,16.86, 16.91,16.92,16.90, 16.96,16.97,16.95, 17.01,17.02,17.00, 17.06,17.07,17.05,
17.11,17.12,17.10, 17.16,17.17,17.15, 17.21,17.22,17.20, 17.26,17.27,17.25, 17.31,17.32,17.30];
const shapEveningFill = [
-0.104,-0.096,-0.087, -0.102,-0.095,-0.087, -0.111,-0.099,-0.095, -0.109,-0.104,-0.091, -0.114,-0.101,-0.096,
-0.115,-0.108,-0.100, -0.114,-0.108,-0.101, -0.122,-0.111,-0.108, -0.121,-0.117,-0.105, -0.125,-0.114,-0.110,
-0.127,-0.121,-0.114, -0.127,-0.121,-0.115, -0.134,-0.125,-0.122, -0.135,-0.131,-0.121, -0.140,-0.129,-0.126];
const tempEveningFill = [
-2.99,-2.99,-2.99, -3.02,-3.02,-3.02, -3.05,-3.05,-3.05, -3.08,-3.08,-3.08, -3.11,-3.11,-3.11,
-3.13,-3.13,-3.13, -3.15,-3.15,-3.15, -3.17,-3.17,-3.17, -3.19,-3.19,-3.19, -3.20,-3.20,-3.20,
-3.20,-3.20,-3.20, -3.20,-3.20,-3.20, -3.20,-3.20,-3.20, -3.20,-3.20,-3.20, -3.20,-3.20,-3.20];

const xTicks = [10, 12, 14, 16];
const yTicks = [-0.15, -0.10, -0.05, 0.00, 0.05, 0.10, 0.15, 0.20, 0.25];
const cTicks = [-3.2, -3.0, -2.8, -2.6, -2.4, -2.2, -2.0, -1.8, -1.6];
const tempRange = [-3.2, -1.504];

// ---- Build the traces ----
const hour = [].concat(hourEarly, hourMorning, hourMorningFill, hourRise, hourRiseFill, hourDecline, hourDeclineFill,
                       hourAfternoon, hourAfternoonFill, hourEvening, hourEveningFill);
const shap = [].concat(shapEarly, shapMorning, shapMorningFill, shapRise, shapRiseFill, shapDecline, shapDeclineFill,
                       shapAfternoon, shapAfternoonFill, shapEvening, shapEveningFill);
const temp = [].concat(tempEarly, tempMorning, tempMorningFill, tempRise, tempRiseFill, tempDecline, tempDeclineFill,
                       tempAfternoon, tempAfternoonFill, tempEvening, tempEveningFill);

const viridisHex = [[0,'#440154'],[0.0627,'#48186a'],[0.1255,'#472d7b'],[0.1882,'#424086'],[0.2510,'#3b528b'],[0.3137,'#33638d'],[0.3765,'#2c728e'],[0.4392,'#26828e'],[0.5020,'#21918c'],[0.5647,'#1fa088'],[0.6275,'#28ae80'],[0.6902,'#3fbc73'],[0.7529,'#5ec962'],[0.8157,'#84d44b'],[0.8784,'#addc30'],[0.9412,'#d8e219'],[1,'#fde725']];
function rgba(hex, a){const n=parseInt(hex.slice(1),16);return 'rgba('+((n>>16)&255)+','+((n>>8)&255)+','+(n&255)+','+a+')';}
const viridisMarkers = viridisHex.map(s => [s[0], rgba(s[1], 0.7)]);
const viridisBar = viridisHex.map(s => [s[0], rgba(s[1], 0.6)]);

const serif = '"Liberation Serif", "DejaVu Serif", "Times New Roman", serif';

const points = {
  type: 'scatter', mode: 'markers',
  x: hour, y: shap,
  hoverinfo: 'skip',
  marker: {
    size: 7, color: temp, colorscale: viridisMarkers, cmin: tempRange[0], cmax: tempRange[1],
    line: {width: 0}, showscale: false
  }
};

// colour bar only (no visible marks)
const scaleOnly = {
  type: 'scatter', mode: 'markers',
  x: [null], y: [null], hoverinfo: 'skip',
  marker: {
    size: 0, color: [tempRange[0]], colorscale: viridisBar, cmin: tempRange[0], cmax: tempRange[1],
    showscale: true,
    colorbar: {
      x: 1.0605, xanchor: 'left', xpad: 0, ypad: 0,
      y: 0.5, yanchor: 'middle', len: 1, lenmode: 'fraction',
      thickness: 18.5, thicknessmode: 'pixels',
      outlinewidth: 0.8, outlinecolor: '#333',
      tickvals: cTicks, tickformat: '.1f',
      ticks: 'outside', ticklen: 3.5, tickwidth: 1, tickcolor: '#333',
      tickfont: {family: serif, size: 10, color: '#222'},
      title: {text: 'Temp (original)', side: 'right', font: {family: serif, size: 10, color: '#222'}}
    }
  }
};

const axisCommon = {
  ticks: 'outside', ticklen: 3.5, tickwidth: 1, tickcolor: '#333',
  showline: true, mirror: true, linecolor: '#333', linewidth: 1,
  showgrid: true, gridcolor: '#e6e6e6', gridwidth: 0.8,
  zeroline: false, automargin: false,
  tickfont: {family: serif, size: 10, color: '#222'}
};

const layout = {
  width: 550, height: 419,
  margin: {l: 50, r: 87, t: 19, b: 30, pad: 0},
  paper_bgcolor: '#ffffff', plot_bgcolor: '#ffffff',
  font: {family: serif, size: 10, color: '#222'},
  showlegend: false,
  title: {text: 'SHAP Dependence Plot (Hour, colored by Temp)', font: {family: serif, size: 12, color: '#111'},
          xref: 'paper', x: 0.5, xanchor: 'center', yref: 'container', y: 0.978, yanchor: 'middle'},
  xaxis: Object.assign({}, axisCommon, {range: [8.63, 17.79], tickvals: xTicks, ticklabelstandoff: -4,
          title: {text: 'Hour', standoff: 7, font: {family: serif, size: 10, color: '#222'}}}),
  yaxis: Object.assign({}, axisCommon, {range: [-0.1936, 0.2536], tickvals: yTicks, tickformat: '.2f',
          title: {text: 'SHAP value', standoff: 5, font: {family: serif, size: 10, color: '#222'}}})
};

Plotly.newPlot('chart', [points, scaleOnly], layout, {displayModeBar: false, staticPlot: true});
</script>
</body>
</html>
